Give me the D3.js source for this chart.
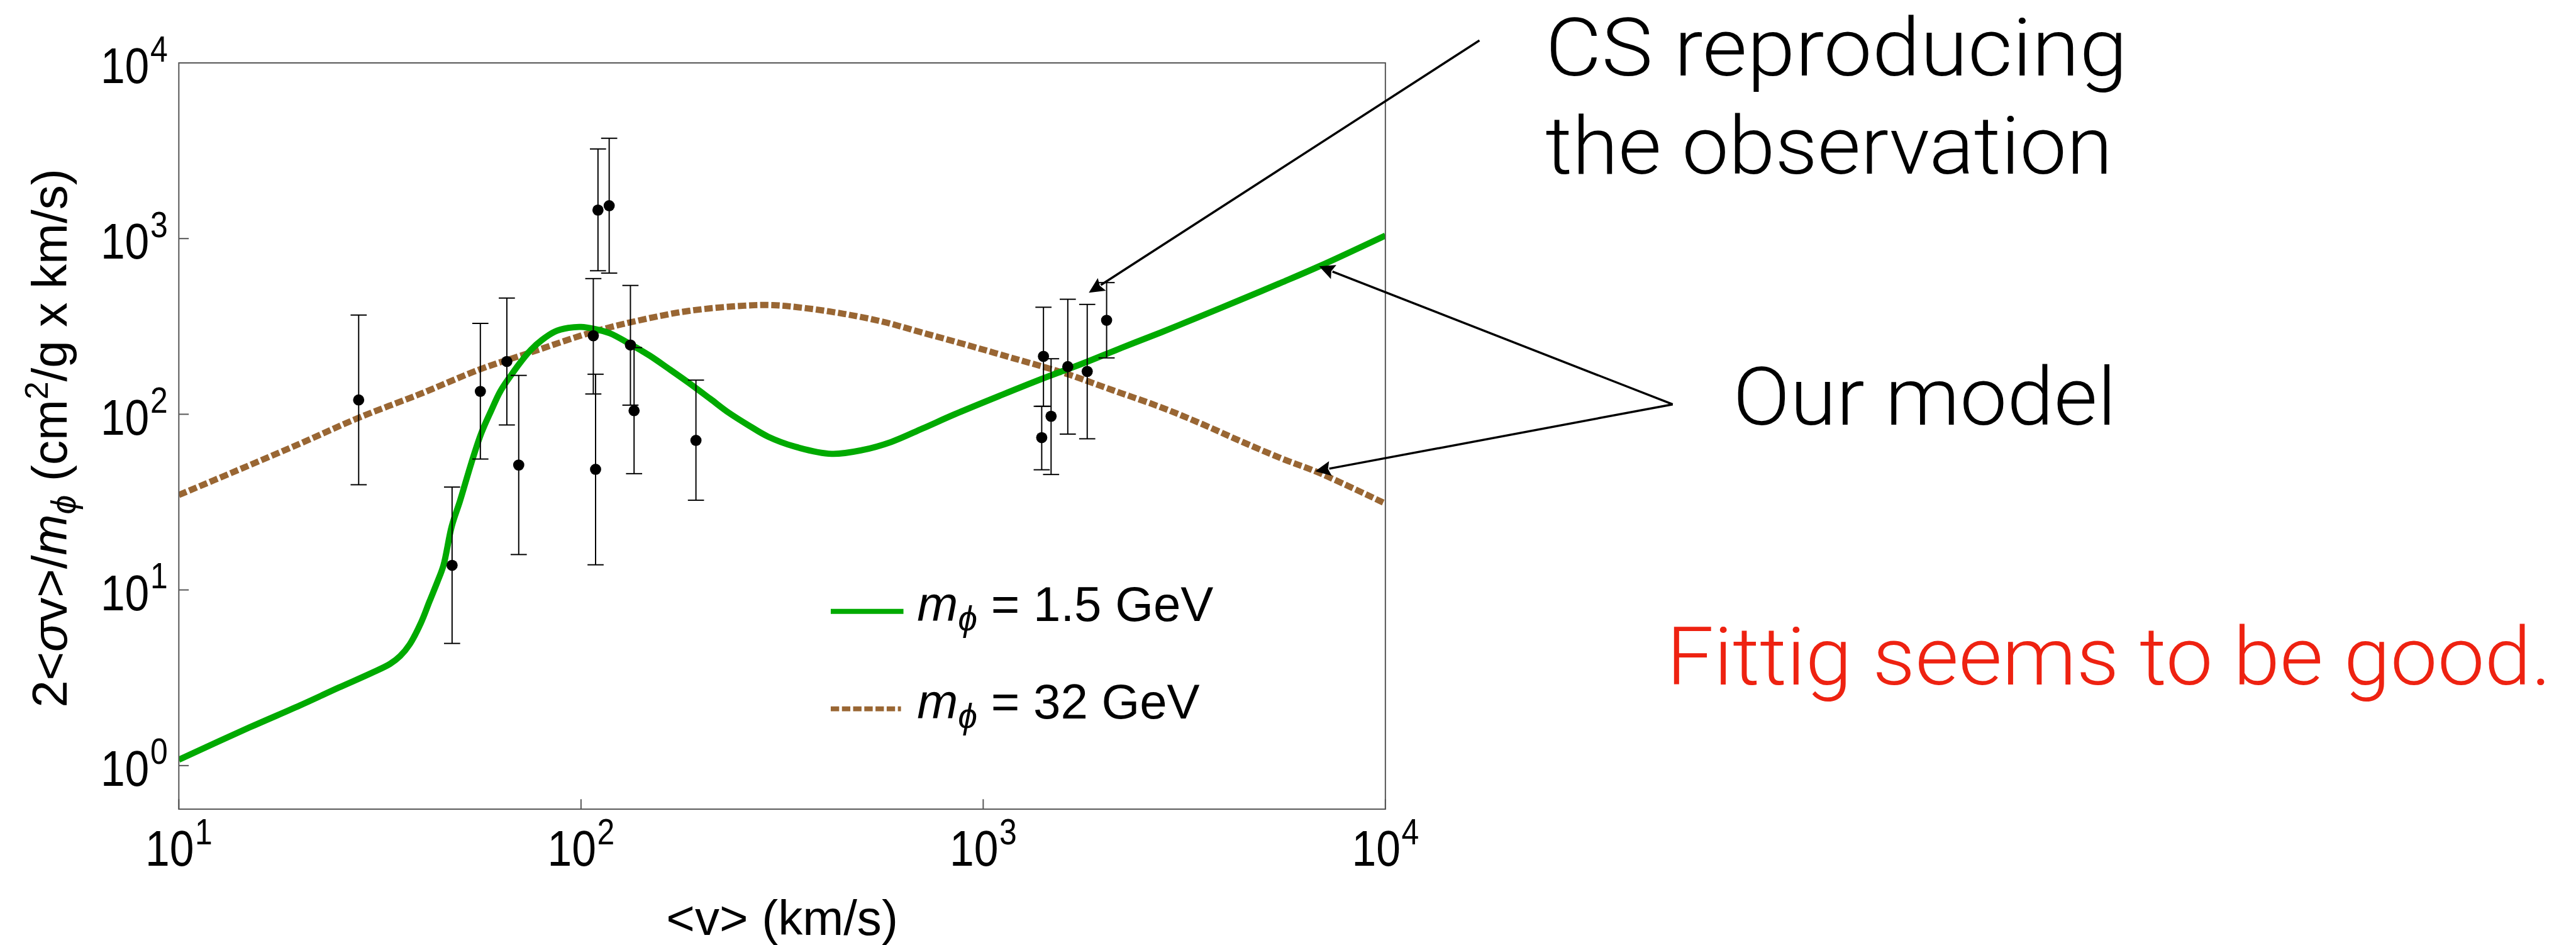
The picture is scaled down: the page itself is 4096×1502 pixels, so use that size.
<!DOCTYPE html>
<html><head><meta charset="utf-8">
<script src="https://cdn.jsdelivr.net/npm/d3@7"></script>
<style>html,body{margin:0;padding:0;background:#fff}svg{display:block}</style>
</head><body>
<script>
// ---------------- data ----------------
const greenV = [10, 15, 20, 25, 30, 33.5, 35.5, 37.5, 40, 42, 44, 45.5, 47.7, 50, 53.4, 56.5, 59.7, 63, 66.9, 71, 75.1, 80, 86, 93, 100, 108, 118, 132, 148, 165, 186, 210, 233, 262, 292, 341, 420, 500, 590, 707, 850, 1114, 1400, 1753, 2200, 2761, 3500, 4347, 5500, 6842, 10000];
const greenY = [1.08, 1.65, 2.2, 2.78, 3.35, 3.79, 4.2, 4.9, 6.5, 8.6, 11.2, 13.8, 23, 32, 53, 78, 104, 135, 166, 200, 233, 265, 295, 310, 314, 306, 289, 252, 216, 182, 150, 122, 102, 86, 74.5, 65.3, 59.5, 62.5, 69.5, 83, 100, 129, 159, 193, 238, 291.7, 364, 446.7, 560, 694.7, 1040];

const brownV = [10, 14, 20, 28, 40, 56, 75, 107, 140, 186, 255, 300, 358, 450, 564, 700, 888, 1200, 1601, 2100, 2761, 3500, 4347, 5500, 6842, 10000];
const brownY = [34.7, 48, 68, 95.5, 131, 180, 225, 294, 343, 388, 415, 418, 403, 373, 336, 293, 252, 207, 170.8, 137, 109.8, 88, 70.6, 56.2, 46.4, 31];

const obsV  = [28.0, 47.8, 56.2, 65.4, 70.0, 107.3, 108.7, 110.2, 117.5, 132.7, 135.5, 193.1, 1398, 1412, 1475, 1623, 1814, 2027];
const obsY  = [120.6, 13.8, 135, 199.7, 51.4, 279.9, 48.6, 1453, 1539, 248, 104.8, 71.0, 73.6, 213.6, 97.4, 186.7, 175.3, 342.8];
const obsHi = [367, 38.5, 329, 458.6, 166.4, 591.8, 169, 3236, 3722, 541, 239.5, 156.4, 111, 406.6, 207, 451.5, 422, 561.6];
const obsLo = [39.7, 4.96, 55.6, 86.9, 15.9, 130.4, 13.9, 656, 636, 112.7, 45.9, 32.4, 48.3, 111, 45.4, 77.1, 72.5, 209.3];

const xTickVals = [10, 100, 1000, 10000];
const xTickExp  = ["1", "2", "3", "4"];
const yTickVals = [1, 10, 100, 1000, 10000];
const yTickExp  = ["0", "1", "2", "3", "4"];

const legendLabels = ["1.5 GeV", "32 GeV"];
const notes = ["CS reproducing", "the observation", "Our model", "Fittig seems to be good."];

// ---------------- layout (reference pixel units, scaled by 0.988) ----------------
const W = 4096, H = 1502, S = 0.988;
const GREEN = "#00aa00", BROWN = "#996633", FRAME = "#555";
const TICKFONT = "'Liberation Sans', Arial, Helvetica, sans-serif";
const NOTEFONT = "Roboto, 'Helvetica Neue', 'Liberation Sans', sans-serif";

const svg = d3.select("body").append("svg").attr("width", W).attr("height", H)
  .attr("viewBox", `0 0 ${W} ${H}`);
svg.append("rect").attr("width", W).attr("height", H).attr("fill", "#fff");
const g = svg.append("g").attr("transform", `scale(${S})`);

const L = 287.8, R = 2229.6, T = 101.2, B = 1301.7;
const x = d3.scaleLog().domain([10, 1e4]).range([L, R]);
const y = d3.scaleLog().domain([0.565, 1e4]).range([B, T]);

g.append("clipPath").attr("id", "plotclip").append("rect")
  .attr("x", L).attr("y", T).attr("width", R - L).attr("height", B - T);

// curves
const line = d3.line().x(d => x(d[0])).y(d => y(d[1])).curve(d3.curveCatmullRom.alpha(0.5));
const plot = g.append("g").attr("clip-path", "url(#plotclip)");
plot.append("path").datum(brownV.map((v, i) => [v, brownY[i]]))
  .attr("d", line).attr("fill", "none").attr("stroke", BROWN)
  .attr("stroke-width", 10).attr("stroke-dasharray", "13.5,4.5");
plot.append("path").datum(greenV.map((v, i) => [v, greenY[i]]))
  .attr("d", line).attr("fill", "none").attr("stroke", GREEN)
  .attr("stroke-width", 10).attr("stroke-linejoin", "round");

// observations with error bars
const obs = obsV.map((v, i) => ({v, yv: obsY[i], hi: obsHi[i], lo: obsLo[i]}));
const eb = plot.append("g").attr("stroke", "#000").attr("stroke-width", 2);
obs.forEach(d => {
  const cx = x(d.v);
  eb.append("line").attr("x1", cx).attr("x2", cx).attr("y1", y(d.hi)).attr("y2", y(d.lo));
  eb.append("line").attr("x1", cx - 13).attr("x2", cx + 13).attr("y1", y(d.hi)).attr("y2", y(d.hi));
  eb.append("line").attr("x1", cx - 13).attr("x2", cx + 13).attr("y1", y(d.lo)).attr("y2", y(d.lo));
});
plot.append("g").selectAll("circle").data(obs).join("circle")
  .attr("cx", d => x(d.v)).attr("cy", d => y(d.yv)).attr("r", 9).attr("fill", "#000");

// frame + ticks
g.append("rect").attr("x", L).attr("y", T).attr("width", R - L).attr("height", B - T)
  .attr("fill", "none").attr("stroke", FRAME).attr("stroke-width", 2);
yTickVals.forEach(v => {
  g.append("line").attr("x1", L).attr("x2", L + 16).attr("y1", y(v)).attr("y2", y(v))
    .attr("stroke", FRAME).attr("stroke-width", 2);
});
xTickVals.forEach(v => {
  g.append("line").attr("x1", x(v)).attr("x2", x(v)).attr("y1", B).attr("y2", B - 16)
    .attr("stroke", FRAME).attr("stroke-width", 2);
});

// tick labels
function powLabel(parent, px, py, exp, anchor) {
  const t = parent.append("text")
    .attr("transform", `translate(${px},${py}) scale(0.87,1)`)
    .attr("text-anchor", anchor).attr("font-family", TICKFONT)
    .attr("font-size", 81).attr("fill", "#000");
  t.append("tspan").text("10");
  t.append("tspan").attr("font-size", 58).attr("dy", -35).attr("dx", 2).text(exp);
}
yTickVals.forEach((v, i) => powLabel(g, 270, y(v) + 32.6, yTickExp[i], "end"));
xTickVals.forEach((v, i) => powLabel(g, x(v), 1393, xTickExp[i], "middle"));

// axis labels
const xl = g.append("text").attr("x", (L + R) / 2).attr("y", 1504)
  .attr("text-anchor", "middle").attr("font-family", TICKFONT).attr("font-size", 79);
xl.text("<v> (km/s)");

const yl = g.append("text").attr("transform", `translate(107,705) rotate(-90)`)
  .attr("text-anchor", "middle").attr("font-family", TICKFONT).attr("font-size", 79);
yl.append("tspan").text("2<");
yl.append("tspan").attr("font-style", "italic").text("σ");
yl.append("tspan").text("v>/");
yl.append("tspan").attr("font-style", "italic").text("m");
yl.append("tspan").attr("font-style", "italic").attr("font-size", 56).attr("dy", 14).text("ϕ");
yl.append("tspan").attr("dy", -14).text(" (cm");
yl.append("tspan").attr("font-size", 52).attr("dy", -30).text("2");
yl.append("tspan").attr("dy", 30).text("/g x km/s)");

// legend
const legY = [983.6, 1140.3];
const legBase = [999.3, 1156];
g.append("line").attr("x1", 1337).attr("x2", 1454).attr("y1", legY[0]).attr("y2", legY[0])
  .attr("stroke", GREEN).attr("stroke-width", 8);
g.append("line").attr("x1", 1337).attr("x2", 1450).attr("y1", legY[1]).attr("y2", legY[1])
  .attr("stroke", BROWN).attr("stroke-width", 8).attr("stroke-dasharray", "13.5,4.5");
legendLabels.forEach((lab, i) => {
  const t = g.append("text").attr("x", 1476).attr("y", legBase[i])
    .attr("font-family", TICKFONT).attr("font-size", 79).attr("fill", "#000");
  t.append("tspan").attr("font-style", "italic").text("m");
  t.append("tspan").attr("font-style", "italic").attr("font-size", 56).attr("dy", 15).text("ϕ");
  t.append("tspan").attr("dy", -15).text(" = " + lab);
});

// annotation arrows
function arrow(x1, y1, x2, y2) {
  const dx = x2 - x1, dy = y2 - y1, len = Math.hypot(dx, dy);
  const ux = dx / len, uy = dy / len, hl = 25, hw = 12;
  const bx = x2 - ux * hl, by = y2 - uy * hl;
  g.append("line").attr("x1", x1).attr("y1", y1).attr("x2", bx + ux * 2).attr("y2", by + uy * 2)
    .attr("stroke", "#000").attr("stroke-width", 3.5);
  g.append("path").attr("d",
    `M${x2},${y2} L${bx - uy * hw},${by + ux * hw} L${bx + ux * 4},${by + uy * 4} L${bx + uy * hw},${by - ux * hw} Z`)
    .attr("fill", "#000");
}
arrow(2381, 65, 1752.3, 471);
arrow(2692, 650.5, 2123, 428.5);
arrow(2692, 650.5, 2116.6, 758.2);

// annotation texts
const noteSpec = [
  {x: 2487, y: 121, w: 937, c: "#000"},
  {x: 2487, y: 279.6, w: 913, c: "#000"},
  {x: 2789, y: 683.7, w: 617, c: "#000"},
  {x: 2682, y: 1101.2, w: 1424, c: "#ee2211"}
];
notes.forEach((txt, i) => {
  const s = noteSpec[i];
  g.append("text").attr("x", s.x).attr("y", s.y)
    .attr("font-family", NOTEFONT).attr("font-weight", 300).attr("font-size", 130)
    .attr("fill", s.c).attr("textLength", s.w).attr("lengthAdjust", "spacingAndGlyphs")
    .text(txt);
});
</script>
</body></html>
